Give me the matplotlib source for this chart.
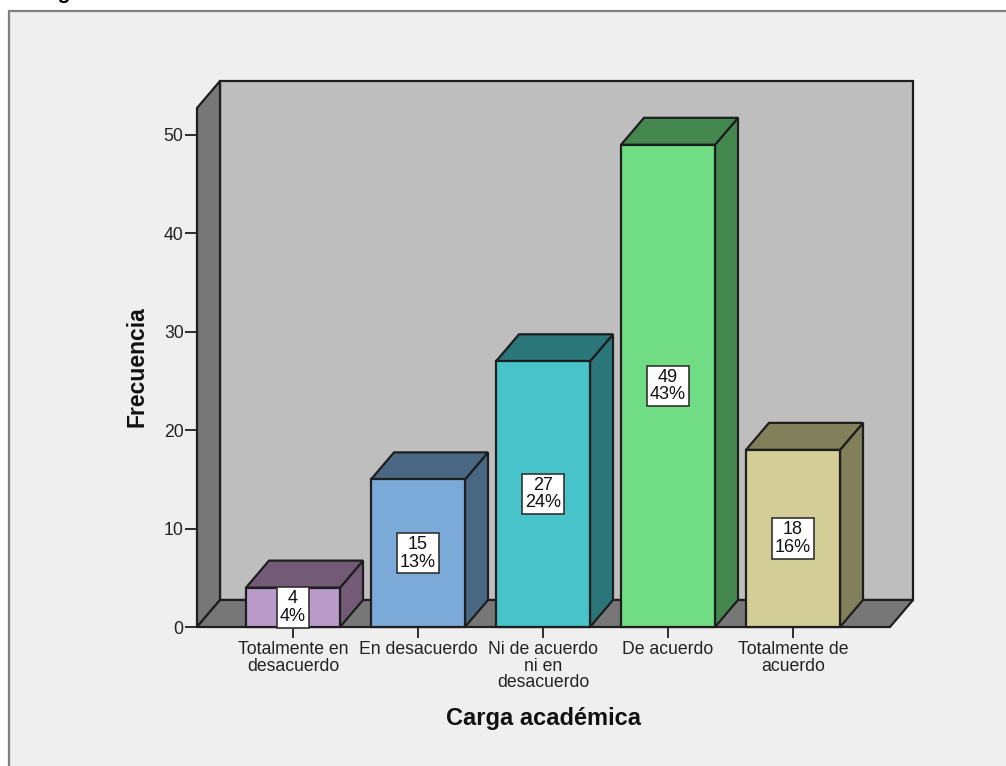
#!/usr/bin/env python3
import matplotlib
matplotlib.use("Agg")
import matplotlib.pyplot as plt
from matplotlib.patches import Polygon, Rectangle

plt.rcParams["font.family"] = ["Liberation Sans", "DejaVu Sans"]

# -------------------------------------
# Data
# -------------------------------------
categories = ["Totalmente en\ndesacuerdo", "En desacuerdo", "Ni de acuerdo\nni en\ndesacuerdo",
              "De acuerdo", "Totalmente de\nacuerdo"]
counts = [4, 15, 27, 49, 18]
percents = [4, 13, 24, 43, 16]
yticks = [0, 10, 20, 30, 40, 50]
front_colors = ["#BA9BC9", "#7BA9D8", "#47C3C9", "#70DD85", "#D3CE97"]
side_colors = ["#735B77", "#4A6783", "#2A7679", "#44884F", "#827F5B"]

W, H = 1006, 766
EDGE = "#1E1E1E"
# 3D offset, in data units
DX = 23 / 125
DY = 27 / 9.84
HALF = 47 / 125
XMIN, XMAX = -0.768, 4.776
YMAX = 52.74

fig = plt.figure(figsize=(W / 100, H / 100), dpi=100, facecolor="white")

# outer panel, runs off the right and bottom of the image
fig.add_artist(Rectangle((9 / W, -0.02), 1.05, 1 - 11 / H + 0.02, transform=fig.transFigure,
                         facecolor="#EFEFEF", edgecolor="#7F7F7F", linewidth=1.6))
fig.text(40 / W, 1 + 1 / H, "Figura", fontsize=15, fontweight="bold", va="baseline", ha="left")

ax = fig.add_axes([197 / W, (H - 627) / H, 693 / W, (627 - 108) / H])
ax.set_xlim(XMIN, XMAX)
ax.set_ylim(0, YMAX)
ax.patch.set_visible(False)
for s in ax.spines.values():
    s.set_visible(False)


def poly(pts, color, z):
    ax.add_patch(Polygon(pts, closed=True, facecolor=color, edgecolor=EDGE,
                         linewidth=1.6, zorder=z, clip_on=False, joinstyle="miter"))


# -------------------------------------
# Walls and floor
# -------------------------------------
poly([(XMIN + DX, DY), (XMAX + DX, DY), (XMAX + DX, YMAX + DY), (XMIN + DX, YMAX + DY)], "#BEBEBE", 1)
poly([(XMIN, 0), (XMIN + DX, DY), (XMIN + DX, YMAX + DY), (XMIN, YMAX)], "#777777", 1)
poly([(XMIN, 0), (XMAX, 0), (XMAX + DX, DY), (XMIN + DX, DY)], "#777777", 1)

# -------------------------------------
# Bars
# -------------------------------------
for i, v in enumerate(counts):
    l, r = i - HALF, i + HALF
    poly([(r, 0), (r + DX, DY), (r + DX, v + DY), (r, v)], side_colors[i], 2 + i)
    poly([(l, v), (r, v), (r + DX, v + DY), (l + DX, v + DY)], side_colors[i], 2 + i)
    poly([(l, 0), (r, 0), (r, v), (l, v)], front_colors[i], 2 + i)
    ax.text(i, v / 2, f"{v}\n{percents[i]}%", ha="center", va="center", ma="center",
            fontsize=13, color="#111111", linespacing=1.05, zorder=20,
            bbox=dict(boxstyle="square,pad=0.16", facecolor="white", edgecolor="#333333", linewidth=1.2))

# -------------------------------------
# Axes text
# -------------------------------------
ax.set_yticks(yticks)
ax.set_xticks(range(len(categories)))
ax.set_xticklabels(categories, linespacing=0.98)
ax.tick_params(axis="y", length=8.6, width=1.3, color=EDGE, labelsize=12.7, labelcolor="#222222", pad=1)
ax.tick_params(axis="x", length=8, width=1.3, color=EDGE, labelsize=12.7, labelcolor="#222222", pad=2)
ax.set_zorder(2)

fig.text(137 / W, 1 - 367 / H, "Frecuencia", rotation=90, ha="center", va="center",
         fontsize=16.5, fontweight="bold", color="#111111")
fig.text(543 / W, 1 - 719 / H, "Carga académica", ha="center", va="center",
         fontsize=17, fontweight="bold", color="#111111")

fig.savefig("out.png", dpi=100, facecolor=fig.get_facecolor())
